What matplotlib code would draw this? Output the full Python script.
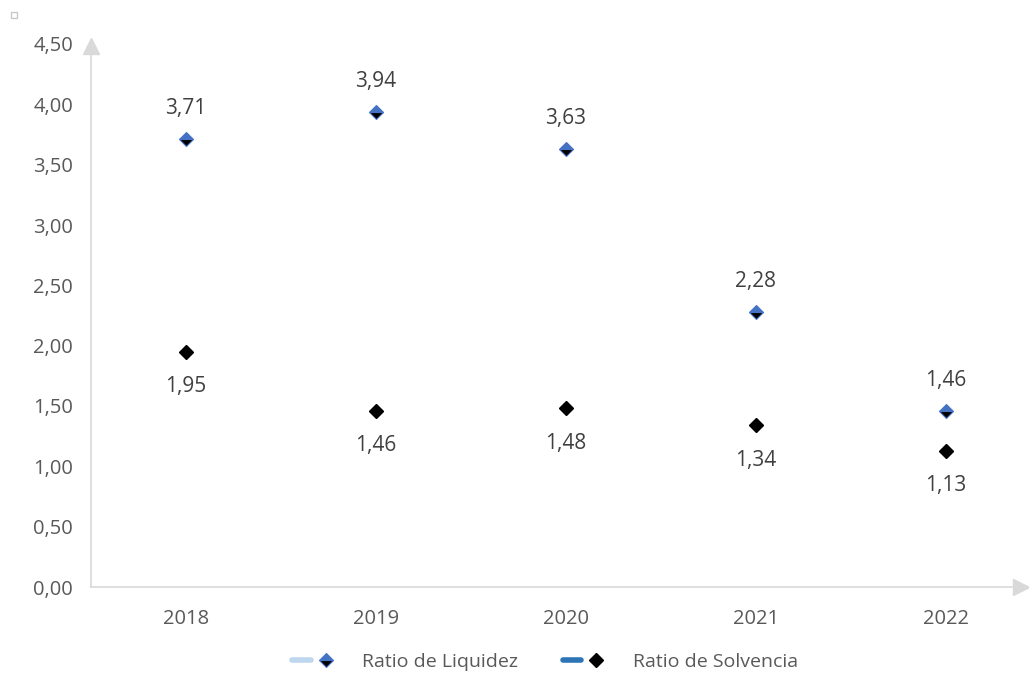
import matplotlib
matplotlib.use("Agg")
import matplotlib.pyplot as plt
from matplotlib.lines import Line2D
from matplotlib.legend_handler import HandlerTuple

years = ["2018", "2019", "2020", "2021", "2022"]
liquidez = [3.71, 3.94, 3.63, 2.28, 1.46]
solvencia = [1.95, 1.46, 1.48, 1.34, 1.13]
yticks = [0.0, 0.5, 1.0, 1.5, 2.0, 2.5, 3.0, 3.5, 4.0, 4.5]

plt.rcParams['font.family'] = ['Open Sans', 'DejaVu Sans']
txt = '#595959'
axc = '#D9D9D9'
blue = '#4472C4'
W, H = 1029, 675
fig = plt.figure(figsize=(W/100, H/100), dpi=100)
left, right, bottom, top = 91, 1027, 587, 40
ax = fig.add_axes([left/W, 1-bottom/H, (right-left)/W, (bottom-top)/H])
x = list(range(len(years)))
ax.set_xlim(-0.5, -0.5 + (right-left)/190)
ax.set_ylim(0, (bottom-top)/((587-44)/4.5))

for s in ax.spines.values():
    s.set_visible(False)
ax.plot([-0.5, -0.5], [0, ax.get_ylim()[1]-0.06], color=axc, lw=1.2, clip_on=False)
ax.plot([-0.5, ax.get_xlim()[1]-0.03], [0, 0], color=axc, lw=1.2, clip_on=False)
ax.plot([-0.5], [ax.get_ylim()[1]-0.05], marker='^', ms=11, color=axc, clip_on=False)
ax.plot([ax.get_xlim()[1]-0.03], [0], marker='>', ms=11, color=axc, clip_on=False)

# small handle square at top-left corner
fig.add_artist(Line2D([14/W], [1-15/H], marker='s', ms=4.5, mfc='white', mec='#C8C8C8', mew=1,
                      transform=fig.transFigure))

ax.set_yticks(yticks)
ax.set_yticklabels([f"{v:.2f}".replace('.', ',') for v in yticks])
ax.set_xticks(x)
ax.set_xticklabels(years)
ax.tick_params(axis='both', length=0, labelsize=14.5, colors=txt)
ax.tick_params(axis='y', pad=13)
ax.tick_params(axis='x', pad=16)

ax.plot(x, liquidez, ls='none', marker='D', ms=7.5, fillstyle='top',
        markerfacecolor=blue, markerfacecoloralt='black', markeredgecolor=blue,
        markeredgewidth=0.8, zorder=3)
ax.plot(x, solvencia, ls='none', marker='D', ms=7.5, color='black', zorder=3)

for xi, v in zip(x, liquidez):
    ax.annotate(f"{v:.2f}".replace('.', ','), (xi, v), xytext=(0, 22), textcoords='offset points',
                ha='center', va='center', fontsize=15, color='#404040')
for xi, v in zip(x, solvencia):
    ax.annotate(f"{v:.2f}".replace('.', ','), (xi, v), xytext=(0, -25), textcoords='offset points',
                ha='center', va='center', fontsize=15, color='#404040')

h1 = (Line2D([], [], color='#BDD7EE', lw=4, solid_capstyle='round'),
      Line2D([], [], ls='none', marker='D', ms=7.5, fillstyle='top', markerfacecolor=blue,
             markerfacecoloralt='black', markeredgecolor=blue, markeredgewidth=0.8))
h2 = (Line2D([], [], color='#2E75B6', lw=4, solid_capstyle='round'),
      Line2D([], [], ls='none', marker='D', ms=7.5, color='black'))
fig.legend([h1, h2], ['Ratio de Liquidez', 'Ratio de Solvencia'],
           handler_map={tuple: HandlerTuple(ndivide=None, pad=0.3)},
           loc='center', bbox_to_anchor=(545/W, 1-662/H), ncol=2, frameon=False,
           fontsize=14, labelcolor=txt, handlelength=2.2, columnspacing=2.3, handletextpad=1.4)

fig.savefig('out.png', dpi=100)
